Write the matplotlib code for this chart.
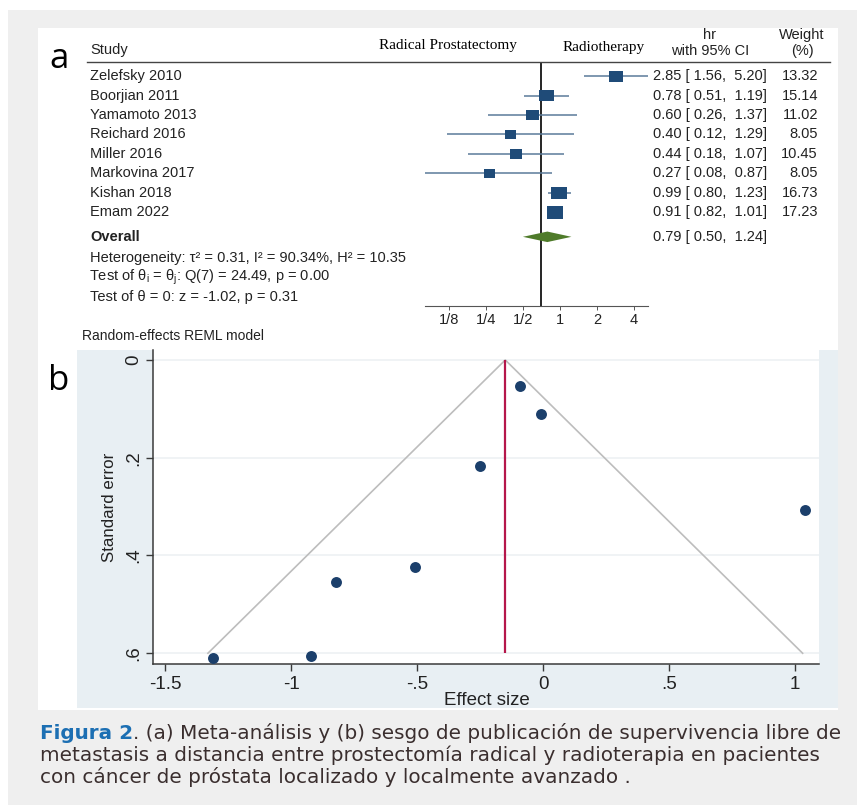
import matplotlib
matplotlib.use("Agg")
import matplotlib.pyplot as plt
import matplotlib.transforms as mtransforms
from matplotlib.patches import Rectangle, Polygon

plt.rcParams["font.family"] = ["Liberation Sans", "DejaVu Sans"]
plt.rcParams["mathtext.fontset"] = "custom"
plt.rcParams["mathtext.rm"] = "Liberation Sans"
plt.rcParams["mathtext.it"] = "Liberation Sans:italic"

W, H = 857, 805

# forest plot data (panel a)
studies = ["Zelefsky 2010", "Boorjian 2011", "Yamamoto 2013", "Reichard 2016",
           "Miller 2016", "Markovina 2017", "Kishan 2018", "Emam 2022"]
hr = [2.85, 0.78, 0.60, 0.40, 0.44, 0.27, 0.99, 0.91]
ci_low = [1.56, 0.51, 0.26, 0.12, 0.18, 0.08, 0.80, 0.82]
ci_high = [5.20, 1.19, 1.37, 1.29, 1.07, 0.87, 1.23, 1.01]
weights = [13.32, 15.14, 11.02, 8.05, 10.45, 8.05, 16.73, 17.23]
overall_hr, overall_low, overall_high = 0.79, 0.50, 1.24
ref_line_hr = 0.70
hr_ticks = [1 / 8, 1 / 4, 1 / 2, 1, 2, 4]
hr_tick_labels = ["1/8", "1/4", "1/2", "1", "2", "4"]

# funnel plot data (panel b)
effect = [1.04, -0.25, -0.51, -0.92, -0.82, -1.31, -0.01, -0.09]
std_err = [0.307, 0.216, 0.424, 0.606, 0.455, 0.609, 0.110, 0.053]
funnel_center = -0.15
funnel_left = -1.33
funnel_right = 1.03
funnel_se = 0.60
es_ticks = [-1.5, -1, -0.5, 0, 0.5, 1]
es_tick_labels = ["-1.5", "-1", "-.5", "0", ".5", "1"]
se_ticks = [0, 0.2, 0.4, 0.6]
se_tick_labels = ["0", ".2", ".4", ".6"]

GRAY_BG = "#efefef"
BLUE_BG = "#e8eff3"
NAVY = "#1f4b78"
TXT = "#222222"


def rect(l, t, r, b):
    return [l / W, 1 - b / H, (r - l) / W, (b - t) / H]


def fx(x):
    return x / W


def fy(y):
    return 1 - y / H


fig = plt.figure(figsize=(W / 100, H / 100), dpi=100, facecolor="white")

# page backgrounds
fig.add_artist(Rectangle((fx(8), 0), 1 - fx(8), fy(10), transform=fig.transFigure,
                         facecolor=GRAY_BG, edgecolor="none", zorder=-10))
fig.add_artist(Rectangle((fx(38), fy(710)), fx(838 - 38), (710 - 28) / H,
                         transform=fig.transFigure, facecolor="white",
                         edgecolor="none", zorder=-9))
fig.add_artist(Rectangle((fx(77), fy(708)), fx(838 - 77), (708 - 350) / H,
                         transform=fig.transFigure, facecolor=BLUE_BG,
                         edgecolor="none", zorder=-8))

# ---------------- panel a: forest plot ----------------
ax1 = fig.add_axes(rect(425, 62, 648, 306))
ax1.set_xscale("log", base=2)
ax1.set_xlim(0.08, 5.2)
ax1.set_ylim(11.8, -0.72)
ax1.patch.set_visible(False)
for s in ["top", "left", "right"]:
    ax1.spines[s].set_visible(False)
ax1.spines["bottom"].set_color("#555555")
ax1.spines["bottom"].set_linewidth(0.8)
ax1.set_yticks([])
ax1.set_xticks(hr_ticks)
ax1.set_xticklabels(hr_tick_labels)
ax1.xaxis.set_minor_locator(matplotlib.ticker.NullLocator())
ax1.tick_params(axis="x", length=3, width=0.7, color="#555555", labelsize=10.5,
                labelcolor=TXT, pad=2)

rows = list(range(len(studies)))
overall_row = 8.25

ax1.axvline(ref_line_hr, color="black", lw=1.2, zorder=1)
ax1.hlines(rows, ci_low, ci_high, color="#5b7b9a", lw=1.1, zorder=2)
box = [(-1, -0.78), (1, -0.78), (1, 0.78), (-1, 0.78), (-1, -0.78)]
ax1.scatter(hr, rows, s=[7.8 * w for w in weights], marker=box, color=NAVY,
            linewidths=0, zorder=3)
dh = 0.27
ax1.add_patch(Polygon([(overall_low, overall_row), (overall_hr, overall_row - dh),
                       (overall_high, overall_row), (overall_hr, overall_row + dh)],
                      closed=True, facecolor="#4f7b2a", edgecolor="none", zorder=3))

row_tf = mtransforms.blended_transform_factory(fig.transFigure, ax1.transData)
fs = 10.5
for name, r, h, lo, hi, w in zip(studies, rows, hr, ci_low, ci_high, weights):
    fig.text(fx(90), r, name, transform=row_tf, va="center", fontsize=fs, color=TXT)
    fig.text(fx(653), r, f"{h:.2f} [ {lo:.2f},  {hi:.2f}]", transform=row_tf,
             va="center", fontsize=fs, color=TXT)
    fig.text(fx(818), r, f"{w:.2f}", transform=row_tf, va="center", ha="right",
             fontsize=fs, color=TXT)
fig.text(fx(90), overall_row, "Overall", transform=row_tf, va="center",
         fontsize=fs, fontweight="bold", color=TXT)
fig.text(fx(653), overall_row,
         f"{overall_hr:.2f} [ {overall_low:.2f},  {overall_high:.2f}]",
         transform=row_tf, va="center", fontsize=fs, color=TXT)

# heterogeneity / test lines, placed on a common baseline grid
stat_lines = ["Heterogeneity: τ² = 0.31, I² = 90.34%, H² = 10.35",
              r"Test of θ$_\mathrm{i}$ = θ$_\mathrm{j}$: Q(7) = 24.49, p = 0.00",
              "Test of θ = 0: z = -1.02, p = 0.31"]
stat_x = [90, 89, 90]
for k, line in enumerate(stat_lines):
    fig.text(fx(stat_x[k]), 9.25 + k + 0.27, line, transform=row_tf, va="baseline",
             fontsize=fs, color=TXT)

# header
fig.text(fx(90), fy(50), "Study", va="center", fontsize=fs, color=TXT)
fig.text(fx(448), fy(46), "Radical Prostatectomy", va="center", ha="center",
         fontsize=11, family="Liberation Serif", color="black")
fig.text(fx(604), fy(47), "Radiotherapy", va="center", ha="center",
         fontsize=11, family="Liberation Serif", color="black")
fig.text(fx(710), fy(35), "hr", va="center", ha="center", fontsize=fs, color=TXT)
fig.text(fx(710), fy(51), "with 95% CI", va="center", ha="center", fontsize=fs, color=TXT)
fig.text(fx(802), fy(35), "Weight", va="center", ha="center", fontsize=fs, color=TXT)
fig.text(fx(802), fy(51), "(%)", va="center", ha="center", fontsize=fs, color=TXT)
fig.add_artist(plt.Line2D([fx(87), fx(830)], [fy(62), fy(62)], transform=fig.transFigure,
                          color="#444444", lw=1.0))
fig.text(fx(82), fy(336), "Random-effects REML model", va="center", fontsize=10,
         color=TXT)

# panel letters
fig.text(fx(49), fy(68), "a", fontsize=25, family="Open Sans", color="black")
fig.text(fx(48), fy(390), "b", fontsize=25, family="Open Sans", color="black")

# ---------------- panel b: funnel plot ----------------
ax2 = fig.add_axes(rect(153, 350, 819, 664))
ax2.set_facecolor("white")
ax2.set_xlim(-1.548, 1.095)
ax2.set_ylim(0.622, -0.0204)
for s in ["top", "right"]:
    ax2.spines[s].set_visible(False)
for s in ["left", "bottom"]:
    ax2.spines[s].set_color("#3a3a3a")
    ax2.spines[s].set_linewidth(1.1)
ax2.set_xticks(es_ticks)
ax2.set_xticklabels(es_tick_labels)
ax2.set_yticks(se_ticks)
ax2.set_yticklabels(se_tick_labels, rotation=90, va="center")
ax2.tick_params(length=5, width=1, color="#3a3a3a", labelsize=13.5, labelcolor=TXT)
ax2.tick_params(axis="y", pad=3)
for t in se_ticks:
    ax2.axhline(t, color="#edf1f4", lw=1.2, zorder=0)

ax2.plot([funnel_left, funnel_center, funnel_right], [funnel_se, 0, funnel_se],
         color="#bdbdbd", lw=1.2, zorder=1)
ax2.vlines(funnel_center, 0, funnel_se, color="#b5174b", lw=1.6, zorder=2)
ax2.scatter(effect, std_err, s=62, color="#1b3f6b", linewidths=0, zorder=3)

fig.text(fx(110), fy(507), "Standard error", rotation=90, ha="center", va="center",
         fontsize=12.2, color=TXT)
fig.text(fx(487), fy(700), "Effect size", ha="center", va="center", fontsize=13.5,
         color=TXT)

# ---------------- caption ----------------
cap_font = "DejaVu Sans"
cap_color = "#3a2e2e"
t1 = fig.text(fx(40), fy(739), "Figura 2", fontsize=14, fontweight="bold",
              family=cap_font, color="#1c6fb3", va="baseline")
t1b = fig.text(0, 0, ". (a) Meta-análisis y (b) sesgo de publicación de supervivencia libre de",
               fontsize=14, family=cap_font, color=cap_color, va="baseline")
t2 = fig.text(fx(40), fy(761),
              "metastasis a distancia entre prostectomía radical y radioterapia en pacientes",
              fontsize=14, family=cap_font, color=cap_color, va="baseline")
t3 = fig.text(fx(40), fy(783), "con cáncer de próstata localizado y localmente avanzado .",
              fontsize=14, family=cap_font, color=cap_color, va="baseline")

# fit caption size so the widest line spans about 803 px
fig.canvas.draw()
r = fig.canvas.get_renderer()
w1 = t1.get_window_extent(r).width + t1b.get_window_extent(r).width
w2 = t2.get_window_extent(r).width
scale = 803 / max(w1, w2)
for t in (t1, t1b, t2, t3):
    t.set_fontsize(14 * scale)
fig.canvas.draw()
bb = t1.get_window_extent(r)
t1b.set_position((bb.x1 / W, fy(739)))

fig.savefig("out.png", dpi=100, facecolor="white")
